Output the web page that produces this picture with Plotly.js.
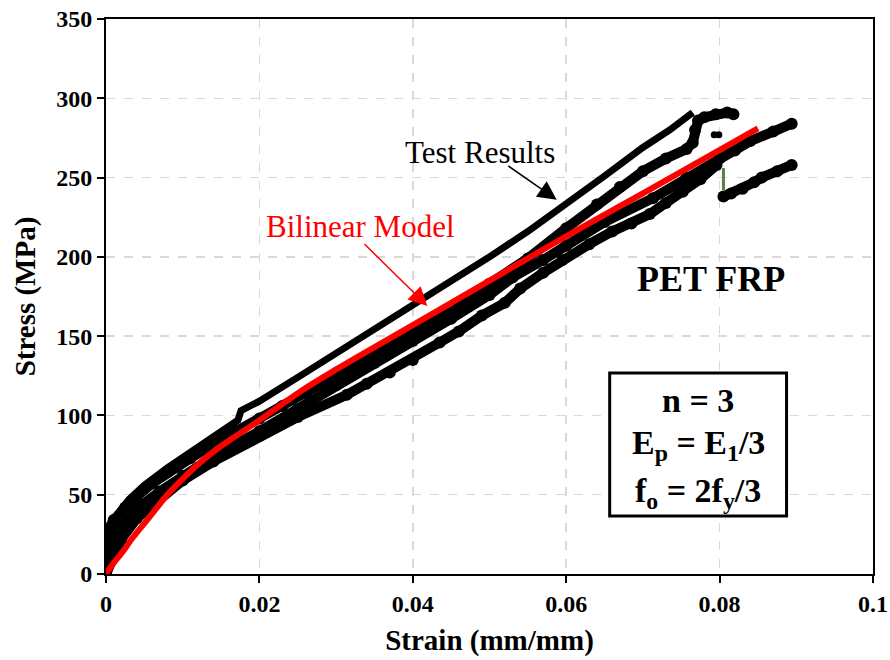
<!DOCTYPE html>
<html>
<head>
<meta charset="utf-8">
<script src="https://cdn.plot.ly/plotly-3.0.1.min.js"></script>
<style>html,body{margin:0;padding:0;background:#fff;}#chart{width:890px;height:660px;}</style>
</head>
<body>
<div id="chart"></div>
<script>
// Specimen A (upper smooth curve)
const specA_strain = [0, 0.0002, 0.0006, 0.0015, 0.003, 0.005, 0.008, 0.011, 0.014, 0.0172, 0.0176, 0.02, 0.025, 0.03, 0.035, 0.04, 0.045, 0.05, 0.055, 0.06, 0.065, 0.07, 0.0735, 0.0765];
const specA_stress = [0, 20, 30, 38, 47, 56, 67, 77, 87, 97, 103, 109, 124, 139, 154, 170, 185, 200, 216, 233, 251, 269, 280, 291];
// Specimen B (ends near 0.08, ~290 MPa)
const specB_strain = [0, 0.0003, 0.001, 0.0025, 0.004, 0.006, 0.008, 0.011, 0.014, 0.017, 0.02, 0.023, 0.026, 0.03, 0.034, 0.038, 0.042, 0.046, 0.05, 0.055, 0.06, 0.064, 0.067, 0.07, 0.073, 0.0757, 0.0765, 0.0768, 0.0772, 0.078, 0.0795, 0.081, 0.0818];
const specB_stress = [0, 28, 34, 42, 49, 57, 64, 73, 82, 90, 98, 106, 114, 125, 135, 146, 157, 168, 183, 199, 218, 233, 244, 254, 262, 268, 272, 280, 286, 288, 290, 291, 290];
// Specimen C (ends near 0.089, ~284 MPa)
const specC_strain = [0, 0.0005, 0.002, 0.004, 0.007, 0.01, 0.014, 0.02, 0.025, 0.03, 0.035, 0.04, 0.045, 0.05, 0.053, 0.057, 0.06, 0.065, 0.0713, 0.0757, 0.08, 0.082, 0.084, 0.087, 0.0894];
const specC_stress = [0, 18, 30, 41, 52, 62, 74, 90, 104, 119, 133, 147, 161, 176, 187, 198, 207, 222, 237, 250, 262, 267, 273, 279, 284];
// Specimen D (lowest curve, drop at 0.0805)
const specD_strain = [0, 0.0008, 0.002, 0.004, 0.007, 0.01, 0.014, 0.02, 0.025, 0.0314, 0.034, 0.037, 0.04, 0.0435, 0.046, 0.049, 0.052, 0.054, 0.057, 0.0595, 0.063, 0.066, 0.0685, 0.0709, 0.073, 0.0752, 0.0775, 0.0796, 0.0805, 0.0815, 0.083, 0.0845, 0.0855, 0.0875, 0.0894];
const specD_stress = [0, 10, 22, 35, 48, 59, 71, 87, 99, 113, 120, 127, 135, 146, 153, 163, 171, 180, 190, 198, 208, 216, 221, 227, 234, 241, 249, 258, 238, 240, 243, 247, 250, 254, 258];
// Drop segment of specimen D
const dropStrain = [0.0805, 0.0805];
const dropStress = [256, 242];
// Stray points
const strayStrain = [0.0793, 0.0799];
const strayStress = [277, 277];
// Bilinear model
const modelStrain = [0, 0.001, 0.002, 0.0035, 0.005, 0.0065, 0.008, 0.01, 0.0122, 0.0145, 0.0166, 0.02, 0.0253, 0.03, 0.04, 0.05, 0.06, 0.07, 0.085];
const modelStress = [0, 7, 13, 23, 32, 41, 50, 60, 70, 79, 86, 97, 115, 129, 157, 185, 213, 240, 281];

const xTicks = [0, 0.02, 0.04, 0.06, 0.08, 0.1];
const xTickText = ['0', '0.02', '0.04', '0.06', '0.08', '0.1'];
const yTicks = [0, 50, 100, 150, 200, 250, 300, 350];

const serif = 'Liberation Serif, Times New Roman, serif';

const blackSpec = (x, y, lw, msize) => ({
  x: x, y: y, type: 'scatter', mode: 'lines+markers',
  line: {color: '#000', width: lw, shape: 'linear'},
  marker: {color: '#000', size: msize},
  showlegend: false, hoverinfo: 'skip'
});

const traces = [
  blackSpec(specD_strain.slice(0, 28), specD_stress.slice(0, 28), 10, 12),
  blackSpec(specD_strain.slice(28), specD_stress.slice(28), 10, 12),
  {x: dropStrain, y: dropStress, type: 'scatter', mode: 'lines', line: {color: '#5b7f3c', width: 3}, showlegend: false},
  blackSpec(specC_strain, specC_stress, 10, 12),
  blackSpec(specB_strain, specB_stress, 10, 12),
  {x: strayStrain, y: strayStress, type: 'scatter', mode: 'markers', marker: {color: '#000', size: 7}, showlegend: false},
  {x: specA_strain, y: specA_stress, type: 'scatter', mode: 'lines', line: {color: '#000', width: 7}, showlegend: false},
  {x: modelStrain, y: modelStress, type: 'scatter', mode: 'lines', line: {color: '#ff0000', width: 6, shape: 'spline'}, showlegend: false}
];

const layout = {
  width: 890, height: 660,
  margin: {l: 106, r: 16.5, t: 19, b: 86},
  paper_bgcolor: '#fff', plot_bgcolor: '#fff',
  font: {family: serif, color: '#000'},
  showlegend: false,
  xaxis: {
    range: [0, 0.1], tickvals: xTicks, ticktext: xTickText,
    showgrid: true, gridcolor: '#d9d9d9', griddash: 'dash', gridwidth: 1.5,
    zeroline: false, showline: true, linecolor: '#000', linewidth: 2, mirror: true,
    ticks: 'outside', ticklen: 7, tickwidth: 2, tickcolor: '#000',
    tickfont: {family: serif, size: 24, color: '#000', weight: 'bold'},
    title: {text: '<b>Strain (mm/mm)</b>', font: {family: serif, size: 29, color: '#000'}, standoff: 14}
  },
  yaxis: {
    range: [0, 350], tickvals: yTicks,
    showgrid: true, gridcolor: '#d9d9d9', griddash: 'dash', gridwidth: 1.5,
    zeroline: false, showline: true, linecolor: '#000', linewidth: 2, mirror: true,
    ticks: 'outside', ticklen: 7, tickwidth: 2, tickcolor: '#000',
    tickfont: {family: serif, size: 24, color: '#000', weight: 'bold'},
    title: {text: '<b>Stress (MPa)</b>', font: {family: serif, size: 29, color: '#000'}, standoff: 12}
  },
  shapes: [
    {type: 'rect', xref: 'x', yref: 'y', x0: 0.06567, x1: 0.08873, y0: 36.6, y1: 126.8,
     line: {color: '#000', width: 3}, fillcolor: '#fff', layer: 'above'}
  ],
  annotations: [
    {x: 0.0487, y: 266, xref: 'x', yref: 'y', text: 'Test Results', showarrow: false,
     font: {family: serif, size: 31, color: '#000'}},
    {x: 0.05876, y: 236, ax: 0.05225, ay: 258, xref: 'x', yref: 'y', axref: 'x', ayref: 'y', text: '',
     showarrow: true, arrowhead: 2, arrowsize: 2.5, arrowwidth: 1.5, arrowcolor: '#000'},
    {x: 0.03322, y: 219, xref: 'x', yref: 'y', text: 'Bilinear Model', showarrow: false,
     font: {family: serif, size: 31, color: '#ff0000'}},
    {x: 0.0419, y: 169, ax: 0.0335, ay: 209, xref: 'x', yref: 'y', axref: 'x', ayref: 'y', text: '',
     showarrow: true, arrowhead: 2, arrowsize: 2.5, arrowwidth: 1.5, arrowcolor: '#ff0000'},
    {x: 0.07883, y: 186, xref: 'x', yref: 'y', text: '<b>PET FRP</b>', showarrow: false,
     font: {family: serif, size: 36, color: '#000'}},
    {x: 0.0772, y: 109.7, xref: 'x', yref: 'y', text: '<b>n = 3</b>', showarrow: false,
     font: {family: serif, size: 34, color: '#000'}},
    {x: 0.0772, y: 81.4, xref: 'x', yref: 'y', text: '<b>E<sub>p</sub> = E<sub>1</sub>/3</b>', showarrow: false,
     font: {family: serif, size: 34, color: '#000'}},
    {x: 0.0772, y: 51.1, xref: 'x', yref: 'y', text: '<b>f<sub>o</sub> = 2f<sub>y</sub>/3</b>', showarrow: false,
     font: {family: serif, size: 34, color: '#000'}}
  ]
};

Plotly.newPlot('chart', traces, layout, {displayModeBar: false, staticPlot: true});
</script>
</body>
</html>
